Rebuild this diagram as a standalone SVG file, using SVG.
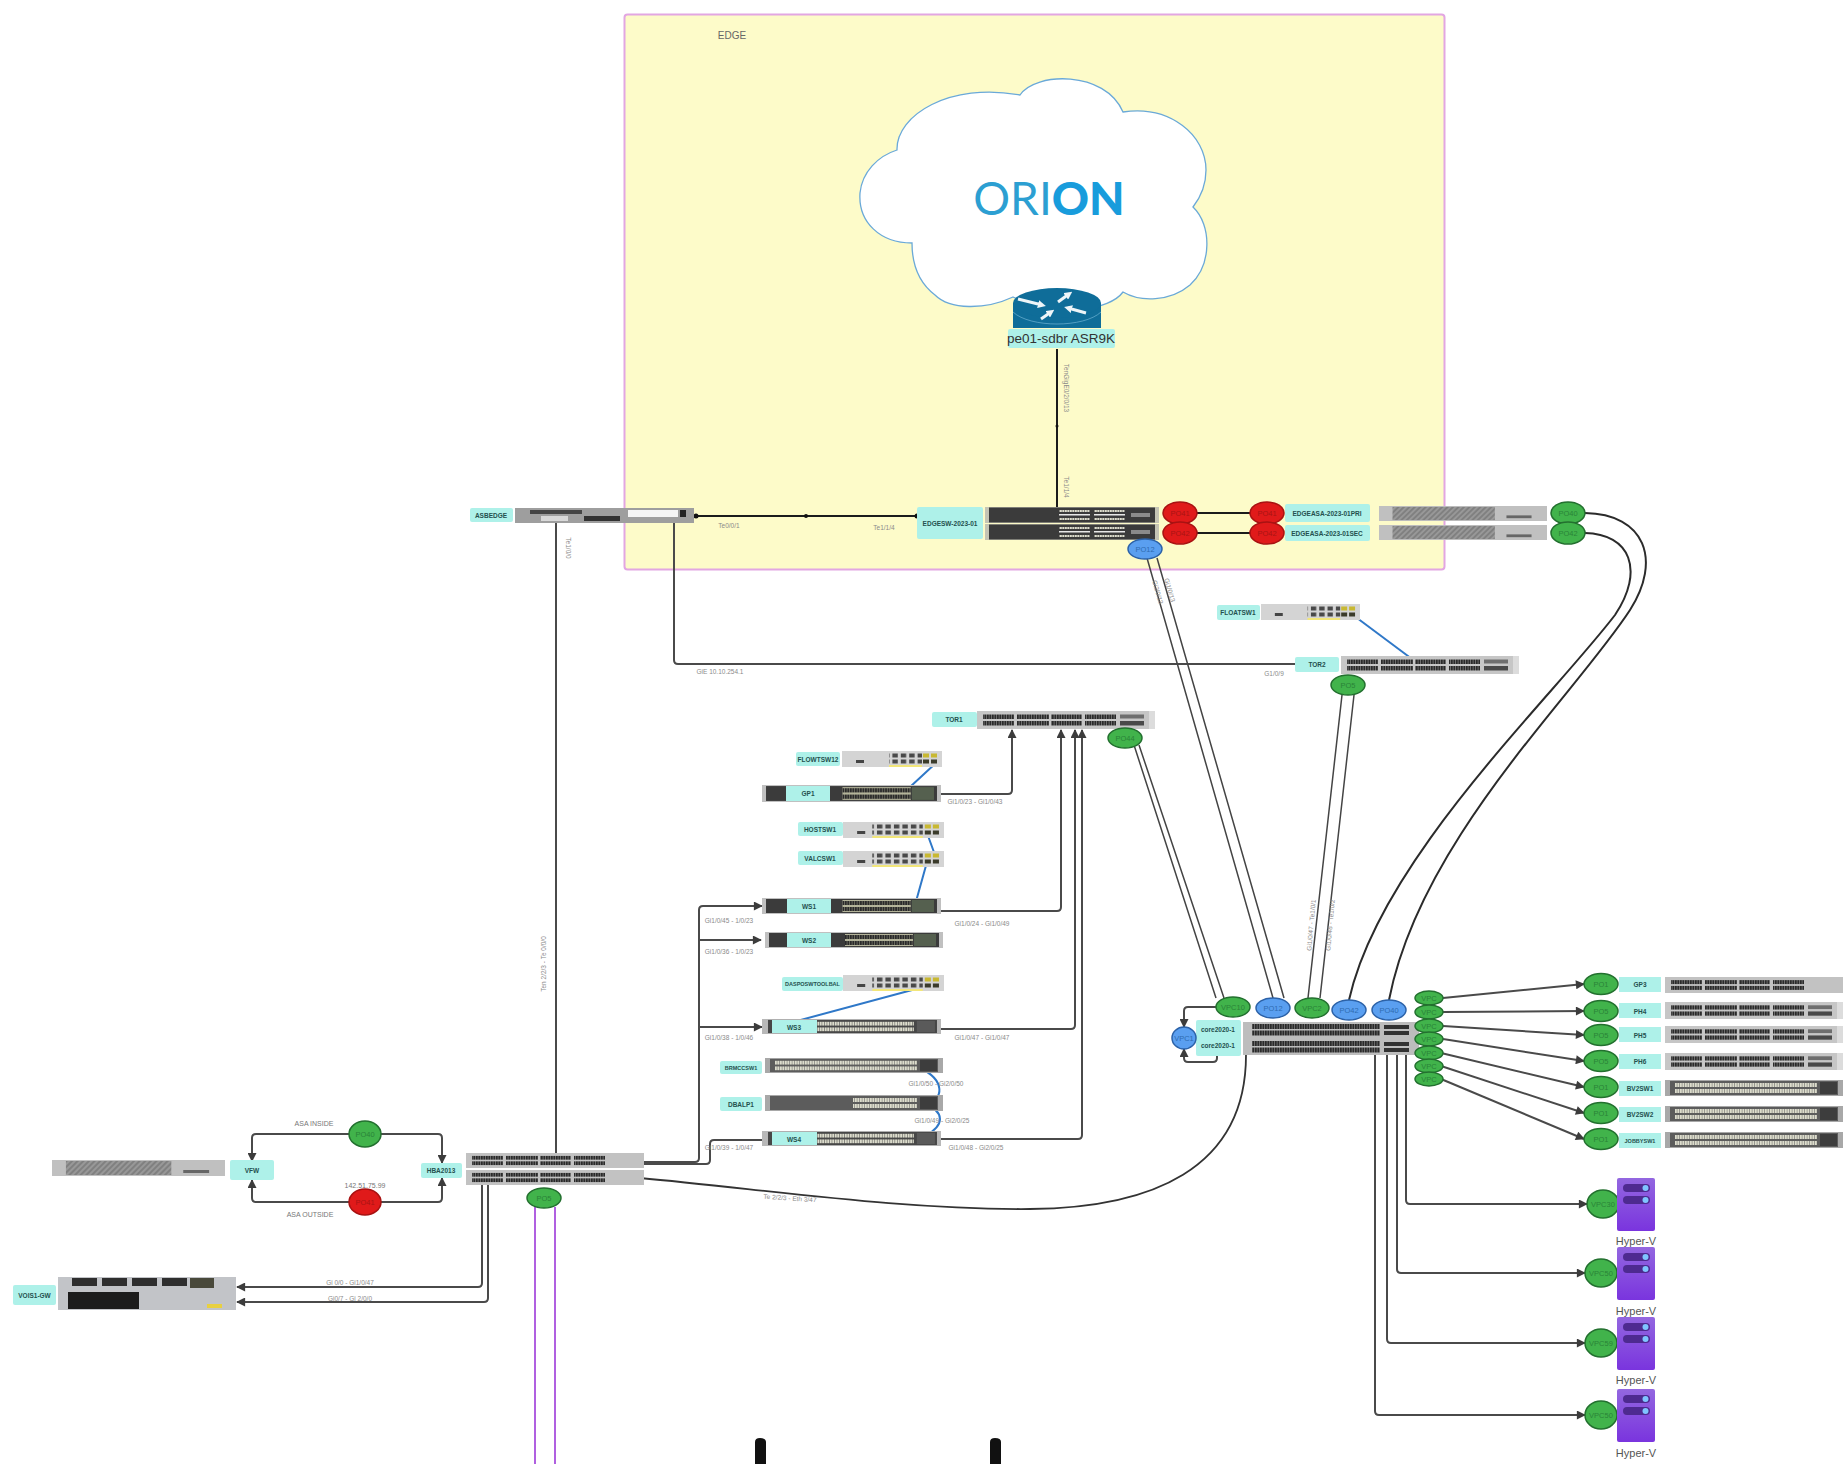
<svg xmlns="http://www.w3.org/2000/svg" width="1843" height="1464" viewBox="0 0 1843 1464">
<style>
text{font-family:"Liberation Sans",Arial,sans-serif}
.lb{fill:#aef1e9}
.t{font-size:6.500px;font-weight:700;fill:#24504e;text-anchor:middle;dominant-baseline:central}
.c{font-size:6.500px;fill:#8a8a8a;text-anchor:middle;dominant-baseline:central}
.a{font-size:7px;fill:#777;text-anchor:middle;dominant-baseline:central}
.eg{fill:#41b34b;stroke:#23702f;stroke-width:1.5}
.eb{fill:#5a9ff0;stroke:#2c62a8;stroke-width:1.5}
.er{fill:#e01a1a;stroke:#a81212;stroke-width:1.5}
.tg{font-size:7.5px;fill:#2a8338;text-anchor:middle;dominant-baseline:central}
.tb{font-size:7.5px;fill:#2f6cb0;text-anchor:middle;dominant-baseline:central}
.tr{font-size:7.5px;fill:#a81414;text-anchor:middle;dominant-baseline:central}
.k{fill:none;stroke:#4a4a4a;stroke-width:2;stroke-linejoin:round}
.ka{fill:none;stroke:#4a4a4a;stroke-width:2;stroke-linejoin:round;marker-end:url(#ar)}
.bk{fill:none;stroke:#1b1b1b;stroke-width:2}
.th{fill:none;stroke:#444;stroke-width:1.5}
.bl{fill:none;stroke:#2f78c8;stroke-width:2}
.pu{fill:none;stroke:#b060e0;stroke-width:2}
.hv{font-size:11px;fill:#555;text-anchor:middle}
.srv{fill:url(#hvg)}
.pill{fill:#4e2a90}
.dot{fill:#7fc4ff}
.d{filter:url(#soft)}
.ra{fill:none;stroke:#eef5f8;stroke-width:3;marker-end:url(#wa)}
</style>
<defs>
<filter id="soft" x="-5%" y="-20%" width="110%" height="140%"><feGaussianBlur stdDeviation="0.45"/></filter>
<linearGradient id="hvg" x1="0" y1="0" x2="0" y2="1"><stop offset="0" stop-color="#9367e0"/><stop offset="1" stop-color="#7a34de"/></linearGradient>
<marker id="ar" viewBox="0 0 10 10" refX="9" refY="5" markerWidth="10" markerHeight="9" markerUnits="userSpaceOnUse" orient="auto"><path d="M0 0L10 5L0 10z" fill="#3c3c3c"/></marker>
<marker id="wa" viewBox="0 0 10 10" refX="5" refY="5" markerWidth="8" markerHeight="8" markerUnits="userSpaceOnUse" orient="auto"><path d="M0 0L10 5L0 10z" fill="#eef5f8"/></marker>
<pattern id="pt" width="2.500" height="20" patternUnits="userSpaceOnUse"><rect width="2.100" height="20" fill="#2c2c2c"/></pattern>
<pattern id="pl" width="2.500" height="20" patternUnits="userSpaceOnUse"><rect width="2" height="20" fill="#dcdccc"/></pattern>
<pattern id="hat" width="4" height="4" patternUnits="userSpaceOnUse" patternTransform="rotate(45)"><rect width="4" height="4" fill="#808080"/><rect width="2" height="4" fill="#989898"/></pattern>
<pattern id="cols" width="8.400" height="16" patternUnits="userSpaceOnUse"><rect width="5.400" height="4" y="2.500" fill="#4a4a4a"/><rect width="5.400" height="4" y="8.500" fill="#4a4a4a"/></pattern>
<g id="rows"><rect x="6" y="3.500" width="31" height="4.500" fill="url(#pt)"/><rect x="6" y="10" width="31" height="4.500" fill="url(#pt)"/><rect x="40" y="3.500" width="32" height="4.500" fill="url(#pt)"/><rect x="40" y="10" width="32" height="4.500" fill="url(#pt)"/><rect x="74" y="3.500" width="31" height="4.500" fill="url(#pt)"/><rect x="74" y="10" width="31" height="4.500" fill="url(#pt)"/><rect x="108" y="3.500" width="31" height="4.500" fill="url(#pt)"/><rect x="108" y="10" width="31" height="4.500" fill="url(#pt)"/></g>
<symbol id="swU" viewBox="0 0 178 18" preserveAspectRatio="none"><rect width="178" height="18" fill="#c6c6c6"/><use href="#rows"/><rect x="143" y="3.500" width="24" height="4" fill="#6e6e6e"/><rect x="143" y="10" width="24" height="4.500" fill="#4a4a4a"/><rect x="172" width="6" height="18" fill="#dcdcdc"/></symbol>
<symbol id="swN" viewBox="0 0 178 18" preserveAspectRatio="none"><rect width="178" height="18" fill="#c2c2c2"/><use href="#rows"/></symbol>
<symbol id="swD" viewBox="0 0 178 16" preserveAspectRatio="none"><rect width="178" height="16" fill="#c0c0c0"/><rect x="4" y="1" width="170" height="14" fill="#3a3a3a"/><rect x="80" y="2" width="68" height="12" fill="#b4b49a"/><rect x="80" y="3" width="68" height="4" fill="url(#pt)"/><rect x="80" y="9" width="68" height="4" fill="url(#pt)"/><rect x="149" y="2" width="22" height="12" fill="#55604f"/></symbol>
<symbol id="swS" viewBox="0 0 178 16" preserveAspectRatio="none"><rect width="178" height="16" fill="#b8b8b8"/><rect x="6" y="1" width="168" height="14" fill="#474747"/><rect x="55" y="3" width="96" height="4" fill="url(#pl)"/><rect x="55" y="9" width="96" height="4" fill="url(#pl)"/><rect x="154" y="2" width="18" height="12" fill="#5a5a5a"/></symbol>
<symbol id="swG" viewBox="0 0 178 16" preserveAspectRatio="none"><rect width="178" height="16" fill="#a8a8a8"/><rect x="5" y="1" width="168" height="14" fill="#5c5c5c"/><rect x="10" y="3" width="142" height="4" fill="url(#pl)"/><rect x="10" y="9" width="142" height="4" fill="url(#pl)"/><rect x="155" y="2" width="17" height="12" fill="#3e3e3e"/></symbol>
<symbol id="swH" viewBox="0 0 178 16" preserveAspectRatio="none"><rect width="178" height="16" fill="#a8a8a8"/><rect x="5" y="1" width="168" height="14" fill="#5c5c5c"/><rect x="88" y="3" width="64" height="4" fill="url(#pl)"/><rect x="88" y="9" width="64" height="4" fill="url(#pl)"/><rect x="155" y="2" width="17" height="12" fill="#3e3e3e"/></symbol>
<symbol id="mini4" viewBox="0 0 100 16" preserveAspectRatio="none"><rect width="100" height="16" fill="#d4d4d4"/><rect x="14" y="9" width="8" height="3" fill="#444"/><rect x="47" width="33" height="16" fill="url(#cols)"/><rect x="47" y="14" width="33" height="2" fill="#f2e67a"/><rect x="81" y="2.500" width="6" height="4" fill="#c8b830"/><rect x="89" y="2.500" width="6" height="4" fill="#c8b830"/><rect x="81" y="8.500" width="6" height="4" fill="#3a3a2a"/><rect x="89" y="8.500" width="6" height="4" fill="#3a3a2a"/></symbol>
<symbol id="mini6" viewBox="0 0 100 16" preserveAspectRatio="none"><rect width="100" height="16" fill="#d4d4d4"/><rect x="14" y="9" width="8" height="3" fill="#444"/><rect x="29" width="50" height="16" fill="url(#cols)"/><rect x="29" y="14" width="50" height="2" fill="#f2e67a"/><rect x="81" y="2.500" width="6" height="4" fill="#c8b830"/><rect x="89" y="2.500" width="6" height="4" fill="#c8b830"/><rect x="81" y="8.500" width="6" height="4" fill="#3a3a2a"/><rect x="89" y="8.500" width="6" height="4" fill="#3a3a2a"/></symbol>
<symbol id="asa" viewBox="0 0 174 16" preserveAspectRatio="none"><rect width="174" height="16" fill="#c0c0c0"/><rect x="14" y="1" width="106" height="14" fill="url(#hat)"/><rect x="132" y="10" width="26" height="3" fill="#666"/></symbol>
<symbol id="edge" viewBox="0 0 174 16" preserveAspectRatio="none"><rect width="174" height="16" fill="#c4c4b4"/><rect x="4" y="0.500" width="166" height="15" fill="#3b3b3b"/><rect x="74" y="3" width="31" height="2" fill="url(#pl)"/><rect x="74" y="7" width="31" height="1.500" fill="#e8e8e8"/><rect x="74" y="11" width="31" height="2" fill="url(#pl)"/><rect x="109" y="3" width="31" height="2" fill="url(#pl)"/><rect x="109" y="7" width="31" height="1.500" fill="#e8e8e8"/><rect x="109" y="11" width="31" height="2" fill="url(#pl)"/><rect x="146" y="6" width="19" height="4" fill="#8a8a8a"/></symbol>
<symbol id="hyper" viewBox="0 0 38 53"><rect width="38" height="53" rx="2" class="srv"/><rect x="6" y="6" width="27" height="8" rx="4" class="pill"/><circle cx="28.500" cy="10" r="3" class="dot"/><rect x="6" y="18" width="27" height="8" rx="4" class="pill"/><circle cx="28.500" cy="22" r="3" class="dot"/></symbol>
</defs>

<rect x="0" y="0" width="1843" height="1464" fill="#fff"/>
<g id="edge-zone">
<rect x="624.500" y="14.500" width="820" height="555" rx="3" fill="#fdfbc9" stroke="#e2a6e2" stroke-width="2"/>
<text x="732" y="35" text-anchor="middle" dominant-baseline="central" font-size="10" fill="#666">EDGE</text>
</g>
<g id="orion-cloud">
<path d="M912 243C880 243 858 222 860 193C862 172 878 156 897 150C896 115 950 82 1020 95C1035 72 1105 70 1123 112C1170 105 1206 135 1206 170C1206 185 1200 198 1193 207C1212 225 1212 265 1190 285C1170 302 1140 302 1123 292C1110 310 1060 318 1013 297C985 310 950 310 935 295C918 282 912 262 912 243Z" fill="#fff" stroke="#6aa9d8" stroke-width="1.300"/>
<text x="1049" y="197" text-anchor="middle" dominant-baseline="central" font-size="46" fill="#2c9fd2" style="font-family:Lato,'Liberation Sans',sans-serif" font-weight="400">ORI<tspan font-weight="900" fill="#189cdc">ON</tspan></text>
</g>

<g id="connectors">
<path class="bk" d="M1057 349V510"/>
<circle cx="1057" cy="426" r="1.500" fill="#111"/>
<path class="bk" d="M696 516H917"/>
<circle cx="806" cy="516" r="2" fill="#111"/>
<circle cx="696" cy="516" r="2.500" fill="#111"/>
<circle cx="917" cy="516" r="2.500" fill="#111"/>
<path class="bk" d="M1190 513H1255M1190 533H1255"/>
<path class="k" d="M674 523V660Q674 664 678 664H1295"/>
<path class="k" d="M556 523V1153"/>
<path class="th" d="M1147 558L1273 998M1157 558L1284 998"/>
<path class="th" d="M1342 695L1308 998M1354 695L1320 998"/>
<path class="th" d="M1134 745L1216 998M1139 745L1224 998"/>
<path class="bl" d="M1353 615L1416 662"/>
<path d="M1585 513C1645 514 1662 560 1630 610C1575 695 1420 840 1389 1000" fill="none" stroke="#2b2b2b" stroke-width="2"/>
<path d="M1585 533C1630 534 1645 570 1615 615C1550 700 1380 860 1349 1000" fill="none" stroke="#2b2b2b" stroke-width="2"/>

<path class="bl" d="M937 762L910 787M927 833L935 855M927 862L915 905M782 1025L927 986"/>
<path class="bl" d="M920 1068C945 1080 945 1100 925 1104C945 1112 945 1125 925 1136"/>
<path class="ka" d="M941 794H1008Q1012 794 1012 790V730"/>
<path class="ka" d="M941 911H1057Q1061 911 1061 907V730"/>
<path class="ka" d="M941 1029H1071Q1075 1029 1075 1025V730"/>
<path class="ka" d="M941 1139H1078Q1082 1139 1082 1135V730"/>
<path class="ka" d="M644 1162H695Q699 1162 699 1158V910Q699 906 703 906H762"/>
<path class="ka" d="M699 940H761"/>
<path class="ka" d="M699 1027H762"/>
<path class="k" d="M644 1164H706Q710 1164 710 1160V1144Q710 1140 714 1140H762"/>
<path d="M640 1178C770 1190 900 1210 1030 1209C1150 1208 1246 1170 1246 1055" fill="none" stroke="#333" stroke-width="1.800"/>

<path class="ka" d="M349 1134H256Q252 1134 252 1138V1161"/>
<path class="ka" d="M381 1134H438Q442 1134 442 1138V1163"/>
<path class="ka" d="M349 1202H256Q252 1202 252 1198V1180"/>
<path class="ka" d="M381 1202H438Q442 1202 442 1198V1178"/>
<path class="ka" d="M482 1185V1283Q482 1287 478 1287H237"/>
<path class="ka" d="M488 1185V1298Q488 1302 484 1302H237"/>
<path class="pu" d="M535 1207V1464M555 1207V1464"/>

<path class="ka" d="M1217 1007H1188Q1184 1007 1184 1011V1027"/>
<path class="ka" d="M1217 1056V1058Q1217 1062 1213 1062H1188Q1184 1062 1184 1058V1049"/>
<path class="ka" d="M1443 998L1584 984"/>
<path class="ka" d="M1443 1012L1584 1011"/>
<path class="ka" d="M1443 1026L1584 1035"/>
<path class="ka" d="M1443 1039L1584 1061"/>
<path class="ka" d="M1441 1053L1584 1087"/>
<path class="ka" d="M1441 1066L1584 1113"/>
<path class="ka" d="M1441 1079L1584 1139"/>
<path class="ka" d="M1406 1054V1200Q1406 1204 1410 1204H1587"/>
<path class="ka" d="M1397 1054V1269Q1397 1273 1401 1273H1585"/>
<path class="ka" d="M1387 1054V1339Q1387 1343 1391 1343H1585"/>
<path class="ka" d="M1375 1054V1411Q1375 1415 1379 1415H1585"/>
</g>

<g id="connector-labels">
<text class="c" transform="translate(1066 388) rotate(90)">TenGigE0/2/0/13</text>
<text class="c" transform="translate(1066 487) rotate(90)">Te1/1/4</text>
<text class="c" x="729" y="525">Te0/0/1</text>
<text class="c" x="884" y="527">Te1/1/4</text>
<text class="c" transform="translate(568 548) rotate(90)">Te1/0/0</text>
<text class="c" x="720" y="671">GiE 10.10.254.1</text>
<text class="c" x="1274" y="673">G1/0/9</text>
<text class="c" transform="translate(1158 592) rotate(74)">Gi2/0/13</text>
<text class="c" transform="translate(1170 590) rotate(74)">Gi1/0/13</text>
<text class="c" transform="translate(1311 925) rotate(-85)">Gi1/0/47 - Te1/0/1</text>
<text class="c" transform="translate(1330 925) rotate(-85)">Gi1/0/48 - Te1/0/2</text>
<text class="c" transform="translate(543 964) rotate(-90)">Ten 2/2/3 - Te 0/0/0</text>
<text class="c" x="975" y="801">Gi1/0/23 - Gi1/0/43</text>
<text class="c" x="982" y="923">Gi1/0/24 - Gi1/0/49</text>
<text class="c" x="729" y="920">Gi1/0/45 - 1/0/23</text>
<text class="c" x="729" y="951">Gi1/0/36 - 1/0/23</text>
<text class="c" x="729" y="1037">Gi1/0/38 - 1/0/46</text>
<text class="c" x="982" y="1037">Gi1/0/47 - Gi1/0/47</text>
<text class="c" x="936" y="1083">Gi1/0/50 - Gi2/0/50</text>
<text class="c" x="942" y="1120">Gi1/0/49 - Gi2/0/25</text>
<text class="c" x="729" y="1147">Gi1/0/39 - 1/0/47</text>
<text class="c" x="976" y="1147">Gi1/0/48 - Gi2/0/25</text>
<text class="c" transform="translate(790 1198) rotate(4)">Te 2/2/3 - Eth 3/47</text>
<text class="a" x="314" y="1123">ASA INSIDE</text>
<text class="a" x="365" y="1185">142.51.75.99</text>
<text class="a" x="310" y="1214">ASA OUTSIDE</text>
<text class="c" x="350" y="1282">Gi 0/0 - Gi1/0/47</text>
<text class="c" x="350" y="1298">Gi0/7 - Gi 2/0/0</text>
</g>

<g id="pe01-sdbr">
<path d="M1013 303V328H1101V303Z" fill="#0f6d99"/>
<path d="M1013 312C1030 328 1084 328 1101 312" fill="none" stroke="#7dc0dd" stroke-width="0.600"/>
<ellipse cx="1057" cy="303" rx="44" ry="15" fill="#0f6d99"/>
<path class="ra" d="M1018 299L1042 305"/>
<path class="ra" d="M1058 302L1069 294"/>
<path class="ra" d="M1086 313L1068 308"/>
<path class="ra" d="M1041 319L1051 312"/>
<rect class="lb" x="1008" y="329" width="107" height="19" rx="2"/>
<text x="1061" y="338.500" text-anchor="middle" dominant-baseline="central" font-size="13.500" fill="#333">pe01-sdbr ASR9K</text>
</g>

<g id="asbedge">
<rect class="lb" x="470" y="508" width="43" height="14" rx="2"/><text class="t" x="491" y="515">ASBEDGE</text>
<g class="d"><rect x="515" y="508" width="179" height="15" fill="#9e9e9e"/><rect x="530" y="510" width="52" height="4" fill="#444"/><rect x="541" y="516" width="27" height="5" fill="#d8d8d8"/><rect x="584" y="516" width="36" height="5" fill="#333"/><rect x="628" y="510" width="50" height="7" fill="#f4f4f4"/><rect x="680" y="510" width="6" height="7" fill="#222"/></g>
</g>
<g id="edgesw"><rect class="lb" x="917" y="507" width="66" height="32" rx="2"/><text class="t" x="950" y="523">EDGESW-2023-01</text>
<g class="d"><use href="#edge" x="985" y="507" width="174" height="16"/><use href="#edge" x="985" y="524" width="174" height="16"/></g></g>
<g id="edgeasa">
<rect class="lb" x="1285" y="504" width="85" height="18" rx="2"/><text class="t" x="1327" y="513">EDGEASA-2023-01PRI</text>
<rect class="lb" x="1285" y="525" width="85" height="16" rx="2"/><text class="t" x="1327" y="533">EDGEASA-2023-01SEC</text>
<g class="d"><use href="#asa" x="1379" y="506" width="168" height="15"/><use href="#asa" x="1379" y="525" width="168" height="15"/></g></g>
<g id="edge-ports">
<ellipse class="er" cx="1180" cy="513" rx="17" ry="11"/><text class="tr" x="1180" y="513">PO41</text>
<ellipse class="er" cx="1180" cy="533" rx="17" ry="11"/><text class="tr" x="1180" y="533">PO42</text>
<ellipse class="er" cx="1267" cy="513" rx="17" ry="11"/><text class="tr" x="1267" y="513">PO41</text>
<ellipse class="er" cx="1267" cy="533" rx="17" ry="11"/><text class="tr" x="1267" y="533">PO42</text>
<ellipse class="eg" cx="1568" cy="513" rx="17" ry="11"/><text class="tg" x="1568" y="513">PO40</text>
<ellipse class="eg" cx="1568" cy="533" rx="17" ry="11"/><text class="tg" x="1568" y="533">PO42</text>
<ellipse class="eb" cx="1145" cy="549" rx="17" ry="10"/><text class="tb" x="1145" y="549">PO12</text>
</g>
<g id="floatsw1"><rect class="lb" x="1217" y="605" width="43" height="15" rx="2"/><text class="t" x="1238" y="612.500">FLOATSW1</text><use class="d" href="#mini4" x="1261" y="604" width="99" height="16"/></g>
<g id="tor2"><rect class="lb" x="1295" y="657" width="44" height="15" rx="2"/><text class="t" x="1317" y="664.500">TOR2</text><use class="d" href="#swU" x="1341" y="656" width="178" height="18"/>
<ellipse class="eg" cx="1348" cy="685" rx="17" ry="10"/><text class="tg" x="1348" y="685">PO5</text></g>
<g id="tor1"><rect class="lb" x="932" y="712" width="45" height="15" rx="2"/><text class="t" x="954" y="719.500">TOR1</text><use class="d" href="#swU" x="977" y="711" width="178" height="18"/>
<ellipse class="eg" cx="1125" cy="738" rx="17" ry="10"/><text class="tg" x="1125" y="738">PO44</text></g>
<g id="flowtsw12"><rect class="lb" x="796" y="752" width="44" height="14" rx="2"/><text class="t" x="818" y="759">FLOWTSW12</text><use class="d" href="#mini4" x="842" y="751" width="100" height="16"/></g>
<g id="gp1"><use class="d" href="#swD" x="762" y="785" width="179" height="17"/><rect class="lb" x="786" y="786" width="44" height="15"/><text class="t" x="808" y="793.500">GP1</text></g>
<g id="hostsw1"><rect class="lb" x="798" y="822" width="45" height="14" rx="2"/><text class="t" x="820" y="829">HOSTSW1</text><use class="d" href="#mini6" x="843" y="822" width="101" height="16"/></g>
<g id="valcsw1"><rect class="lb" x="798" y="851" width="45" height="14" rx="2"/><text class="t" x="820" y="858">VALCSW1</text><use class="d" href="#mini6" x="843" y="851" width="101" height="16"/></g>
<g id="ws1"><use class="d" href="#swD" x="762" y="898" width="179" height="16"/><rect class="lb" x="787" y="899" width="44" height="14"/><text class="t" x="809" y="906">WS1</text></g>
<g id="ws2"><use class="d" href="#swD" x="765" y="932" width="178" height="16"/><rect class="lb" x="787" y="933" width="44" height="14"/><text class="t" x="809" y="940">WS2</text></g>
<g id="daspsw"><rect class="lb" x="782" y="977" width="61" height="14" rx="2"/><text class="t" x="812.500" y="984" style="font-size:5.500px">DASPOSWTOOLBAL</text><use class="d" href="#mini6" x="843" y="975" width="101" height="16"/></g>
<g id="ws3"><use class="d" href="#swS" x="762" y="1019" width="179" height="15"/><rect class="lb" x="772" y="1020" width="45" height="13"/><text class="t" x="794" y="1027">WS3</text></g>
<g id="brmccsw1"><rect class="lb" x="720" y="1061" width="42" height="13" rx="2"/><text class="t" x="741" y="1067.500" style="font-size:5.500px">BRMCCSW1</text><use class="d" href="#swG" x="765" y="1058" width="178" height="15"/></g>
<g id="dbalp1"><rect class="lb" x="720" y="1097" width="42" height="14" rx="2"/><text class="t" x="741" y="1104">DBALP1</text><use class="d" href="#swH" x="765" y="1095" width="178" height="16"/></g>
<g id="ws4"><use class="d" href="#swS" x="762" y="1131" width="179" height="15"/><rect class="lb" x="772" y="1132" width="45" height="13"/><text class="t" x="794" y="1139">WS4</text></g>

<g id="hba2013"><rect class="lb" x="421" y="1163" width="41" height="15" rx="2"/><text class="t" x="441" y="1170.500">HBA2013</text>
<use class="d" href="#swN" x="466" y="1153" width="178" height="15"/><use class="d" href="#swN" x="466" y="1170" width="178" height="15"/>
<ellipse class="eg" cx="544" cy="1198" rx="17" ry="10"/><text class="tg" x="544" y="1198">PO5</text></g>
<g id="vfw"><use class="d" href="#asa" x="52" y="1160" width="173" height="16"/><rect class="lb" x="230" y="1160" width="44" height="20" rx="2"/><text class="t" x="252" y="1170">VFW</text></g>
<g id="asa-ports">
<ellipse class="eg" cx="365" cy="1134" rx="16" ry="13"/><text class="tg" x="365" y="1134">PO40</text>
<ellipse class="er" cx="365" cy="1202" rx="16" ry="13"/><text class="tr" x="365" y="1202">PO41</text>
</g>
<g id="voice-gw"><rect class="lb" x="13" y="1285" width="43" height="20" rx="2"/><text class="t" x="34.500" y="1295">VOIS1-GW</text>
<g class="d"><rect x="58" y="1277" width="178" height="33" fill="#c2c4c8"/><rect x="72" y="1278" width="25" height="8" fill="#2e2e2e"/><rect x="102" y="1278" width="25" height="8" fill="#2e2e2e"/><rect x="132" y="1278" width="25" height="8" fill="#2e2e2e"/><rect x="162" y="1278" width="25" height="8" fill="#2e2e2e"/><rect x="190" y="1278" width="24" height="10" fill="#4a4a3a"/><rect x="68" y="1292" width="71" height="17" fill="#1e1e1e"/><rect x="207" y="1304" width="15" height="4" fill="#e8d040"/></g></g>

<g id="core2020">
<rect class="lb" x="1196" y="1020" width="45" height="36" rx="2"/>
<text class="t" x="1218" y="1029">core2020-1</text><text class="t" x="1218" y="1045">core2020-1</text>
<g class="d"><rect x="1243" y="1022" width="176" height="33" fill="#bdbdbd"/><rect x="1252" y="1024" width="128" height="5" fill="url(#pt)"/><rect x="1252" y="1030.500" width="128" height="5" fill="url(#pt)"/><rect x="1252" y="1041" width="128" height="5" fill="url(#pt)"/><rect x="1252" y="1047.500" width="128" height="5" fill="url(#pt)"/><rect x="1384" y="1025" width="25" height="4" fill="#333"/><rect x="1384" y="1031" width="25" height="4" fill="#333"/><rect x="1384" y="1042" width="25" height="4" fill="#333"/><rect x="1384" y="1048" width="25" height="4" fill="#333"/></g>
<ellipse class="eb" cx="1184" cy="1038" rx="12" ry="11"/><text class="tb" x="1184" y="1038">VPC1</text>
<ellipse class="eg" cx="1233" cy="1007" rx="17" ry="10"/><text class="tg" x="1233" y="1007">VPC10</text>
<ellipse class="eb" cx="1273" cy="1008" rx="17" ry="10"/><text class="tb" x="1273" y="1008">PO12</text>
<ellipse class="eg" cx="1312" cy="1008" rx="17" ry="10"/><text class="tg" x="1312" y="1008">VPC2</text>
<ellipse class="eb" cx="1349" cy="1010" rx="17" ry="10"/><text class="tb" x="1349" y="1010">PO42</text>
<ellipse class="eb" cx="1389" cy="1010" rx="17" ry="10"/><text class="tb" x="1389" y="1010">PO40</text>
<ellipse class="eg" cx="1429" cy="998" rx="14" ry="7"/><text class="tg" x="1429" y="998">VPC</text>
<ellipse class="eg" cx="1429" cy="1012" rx="14" ry="7"/><text class="tg" x="1429" y="1012">VPC</text>
<ellipse class="eg" cx="1429" cy="1026" rx="14" ry="7"/><text class="tg" x="1429" y="1026">VPC</text>
<ellipse class="eg" cx="1429" cy="1039" rx="14" ry="7"/><text class="tg" x="1429" y="1039">VPC</text>
<ellipse class="eg" cx="1429" cy="1053" rx="14" ry="7"/><text class="tg" x="1429" y="1053">VPC</text>
<ellipse class="eg" cx="1429" cy="1066" rx="14" ry="7"/><text class="tg" x="1429" y="1066">VPC</text>
<ellipse class="eg" cx="1429" cy="1079" rx="14" ry="7"/><text class="tg" x="1429" y="1079">VPC</text>
</g>

<g id="gp3"><ellipse class="eg" cx="1601" cy="984" rx="17" ry="10.500"/><text class="tg" x="1601" y="984">PO1</text><rect class="lb" x="1619" y="977" width="42" height="15"/><text class="t" x="1640" y="984.500">GP3</text><use class="d" href="#swN" x="1665" y="977" width="178" height="16"/></g>
<g id="ph4"><ellipse class="eg" cx="1601" cy="1011" rx="17" ry="10.500"/><text class="tg" x="1601" y="1011">PO5</text><rect class="lb" x="1619" y="1003" width="42" height="15"/><text class="t" x="1640" y="1011">PH4</text><use class="d" href="#swU" x="1665" y="1002" width="178" height="17"/></g>
<g id="ph5"><ellipse class="eg" cx="1601" cy="1035" rx="17" ry="10.500"/><text class="tg" x="1601" y="1035">PO5</text><rect class="lb" x="1619" y="1027" width="42" height="15"/><text class="t" x="1640" y="1035">PH5</text><use class="d" href="#swU" x="1665" y="1026" width="178" height="17"/></g>
<g id="ph6"><ellipse class="eg" cx="1601" cy="1061" rx="17" ry="10.500"/><text class="tg" x="1601" y="1061">PO5</text><rect class="lb" x="1619" y="1054" width="42" height="15"/><text class="t" x="1640" y="1061.500">PH6</text><use class="d" href="#swU" x="1665" y="1053" width="178" height="17"/></g>
<g id="bv2sw1"><ellipse class="eg" cx="1601" cy="1087" rx="17" ry="10.500"/><text class="tg" x="1601" y="1087">PO1</text><rect class="lb" x="1619" y="1081" width="42" height="15"/><text class="t" x="1640" y="1088.500">BV2SW1</text><use class="d" href="#swG" x="1665" y="1080" width="178" height="16"/></g>
<g id="bv2sw2"><ellipse class="eg" cx="1601" cy="1113" rx="17" ry="10.500"/><text class="tg" x="1601" y="1113">PO1</text><rect class="lb" x="1619" y="1107" width="42" height="15"/><text class="t" x="1640" y="1114.500">BV2SW2</text><use class="d" href="#swG" x="1665" y="1106" width="178" height="16"/></g>
<g id="jobbysw1"><ellipse class="eg" cx="1601" cy="1139" rx="17" ry="10.500"/><text class="tg" x="1601" y="1139">PO1</text><rect class="lb" x="1619" y="1133" width="42" height="15"/><text class="t" x="1640" y="1140.500" style="font-size:5.500px">JOBBYSW1</text><use class="d" href="#swG" x="1665" y="1132" width="178" height="16"/></g>

<g id="hyperv1"><ellipse class="eg" cx="1603" cy="1204" rx="16" ry="14"/><text class="tg" x="1603" y="1204">VPC30</text><use href="#hyper" x="1617" y="1178" width="38" height="53"/><text class="hv" x="1636" y="1245">Hyper-V</text></g>
<g id="hyperv2"><ellipse class="eg" cx="1601" cy="1273" rx="16" ry="14"/><text class="tg" x="1601" y="1273">VPC50</text><use href="#hyper" x="1617" y="1247" width="38" height="53"/><text class="hv" x="1636" y="1315">Hyper-V</text></g>
<g id="hyperv3"><ellipse class="eg" cx="1601" cy="1343" rx="16" ry="14"/><text class="tg" x="1601" y="1343">VPC59</text><use href="#hyper" x="1617" y="1317" width="38" height="53"/><text class="hv" x="1636" y="1384">Hyper-V</text></g>
<g id="hyperv4"><ellipse class="eg" cx="1601" cy="1415" rx="16" ry="14"/><text class="tg" x="1601" y="1415">VPC50</text><use href="#hyper" x="1617" y="1389" width="38" height="53"/><text class="hv" x="1636" y="1457">Hyper-V</text></g>

<g id="bottom-marks">
<path d="M755 1464V1442Q755 1438 760 1438Q766 1438 766 1442V1464Z" fill="#111"/>
<path d="M990 1464V1442Q990 1438 995 1438Q1001 1438 1001 1442V1464Z" fill="#111"/>
</g>
</svg>
